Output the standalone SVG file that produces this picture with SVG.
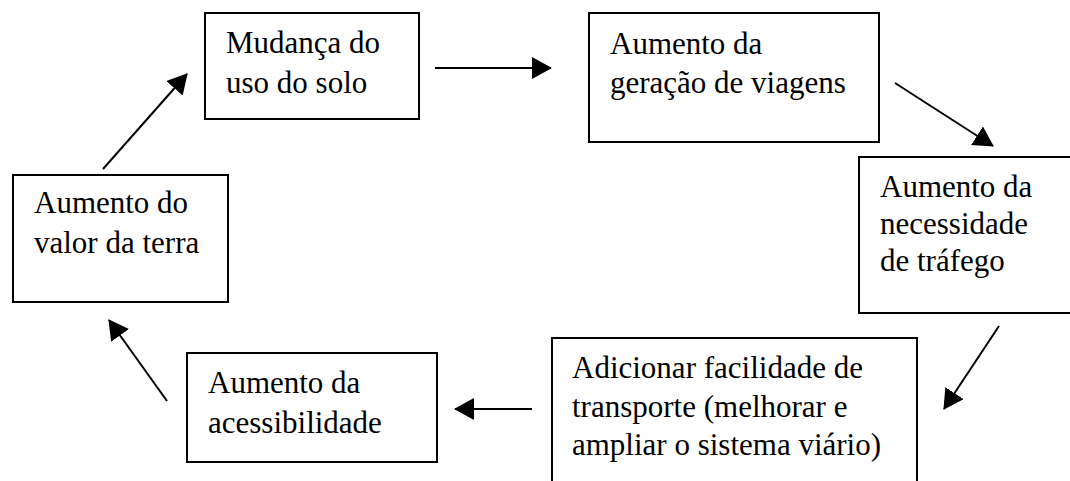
<svg xmlns="http://www.w3.org/2000/svg" width="1070" height="481" viewBox="0 0 1070 481">
<style>
.box{fill:#fff;stroke:#000;stroke-width:2}
.t{font-family:"Liberation Serif","Times New Roman",serif;font-size:31px;fill:#000}
.c{stroke:#000;stroke-width:2;fill:none}
</style>
<defs>
<marker id="ah" viewBox="0 0 20 22" refX="19" refY="11" markerWidth="20" markerHeight="22" markerUnits="userSpaceOnUse" orient="auto">
<path d="M0,0 L20,11 L0,22 Z" fill="#000"/>
</marker>
</defs>
<rect width="1070" height="481" fill="#fff"/>
<g id="n1">
<rect class="box" x="205" y="13" width="214" height="106"/>
<text class="t" x="226" y="53">Mudança do</text>
<text class="t" x="226" y="93">uso do solo</text>
</g>
<g id="n2">
<rect class="box" x="589" y="13" width="290" height="129"/>
<text class="t" x="610" y="54">Aumento da</text>
<text class="t" x="610" y="93">geração de viagens</text>
</g>
<g id="n3">
<rect class="box" x="859" y="157" width="220" height="156"/>
<text class="t" x="880" y="197">Aumento da</text>
<text class="t" x="880" y="234">necessidade</text>
<text class="t" x="880" y="271">de tráfego</text>
</g>
<g id="n4">
<rect class="box" x="552" y="338" width="365" height="160"/>
<text class="t" x="572" y="378">Adicionar facilidade de</text>
<text class="t" x="572" y="417">transporte (melhorar e</text>
<text class="t" x="572" y="455">ampliar o sistema viário)</text>
</g>
<g id="n5">
<rect class="box" x="187" y="353" width="250" height="109"/>
<text class="t" x="208" y="393">Aumento da</text>
<text class="t" x="208" y="433">acessibilidade</text>
</g>
<g id="n6">
<rect class="box" x="13" y="175" width="215" height="127"/>
<text class="t" x="34" y="213">Aumento do</text>
<text class="t" x="34" y="253">valor da terra</text>
</g>
<g id="connectors">
<line class="c" x1="435" y1="68" x2="551" y2="68" marker-end="url(#ah)"/>
<line class="c" x1="895" y1="83" x2="993" y2="146" marker-end="url(#ah)"/>
<line class="c" x1="999" y1="326" x2="944" y2="409" marker-end="url(#ah)"/>
<line class="c" x1="532" y1="409" x2="455" y2="409" marker-end="url(#ah)"/>
<line class="c" x1="167" y1="401" x2="109" y2="320" marker-end="url(#ah)"/>
<line class="c" x1="103" y1="169" x2="187" y2="74" marker-end="url(#ah)"/>
</g>
</svg>
